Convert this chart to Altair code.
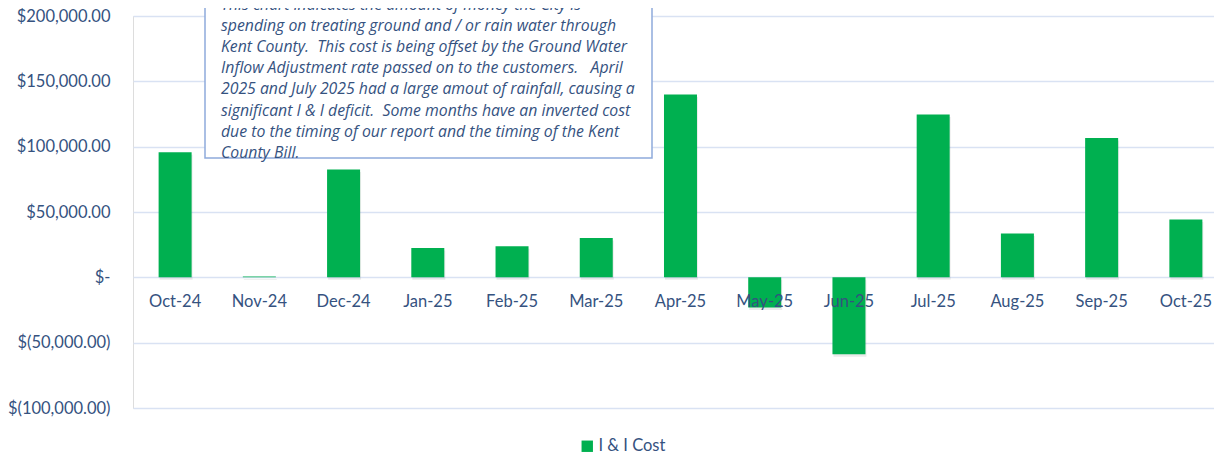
import altair as alt
import pandas as pd

# ---- data ----
months = ["Oct-24", "Nov-24", "Dec-24", "Jan-25", "Feb-25", "Mar-25", "Apr-25",
          "May-25", "Jun-25", "Jul-25", "Aug-25", "Sep-25", "Oct-25"]
costs = [95800, 600, 82500, 22400, 23700, 30100, 140000,
         -23100, -58800, 124700, 33600, 106600, 44300]
series_name = "I & I Cost"
y_ticks = [-100000, -50000, 0, 50000, 100000, 150000, 200000]
note_lines = [
    "This chart indicates the amount of money the City is",
    "spending on treating ground and / or rain water through",
    "Kent County.\u00a0 This cost is being offset by the Ground Water",
    "Inflow Adjustment rate passed on to the customers.\u00a0\u00a0 April",
    "2025 and July 2025 had a large amout of rainfall, causing a",
    "significant I & I deficit.\u00a0 Some months have an inverted cost",
    "due to the timing of our report and the timing of the Kent",
    "County Bill.",
]

df = pd.DataFrame({"month": months, "cost": costs, "series": [series_name] * len(months)})
one = pd.DataFrame({"k": [0]})

FONT = "Lato"
TXT = "#35527F"
GREEN = "#00B050"

# category slots: position = order of the month in the list (1..13);
# the visible plot is a little narrower than 13 full slots, as in the reference
x_enc = alt.X("idx:Q", axis=None,
              scale=alt.Scale(domain=[0.5, 13.334], nice=False, zero=False, padding=0))
y_scale = alt.Scale(domain=[-100000, 200000], nice=False, zero=False)

label_expr = ("datum.value == 0 ? '$-' : (datum.value < 0 ? '$(' + format(-datum.value, ',.2f') + ')'"
              " : '$' + format(datum.value, ',.2f'))")

y_enc = alt.Y("cost:Q", scale=y_scale,
              axis=alt.Axis(values=y_ticks, labelExpr=label_expr, title=None, domain=False,
                            ticks=False, gridColor="#D9E2F3", gridWidth=1.3,
                            labelFont=FONT, labelFontSize=16.5, labelColor=TXT, labelPadding=23))

base = alt.Chart(df).transform_window(idx="row_number()")

shadow = base.mark_bar(width=33, color="#000000", opacity=0.08, xOffset=1, yOffset=2.5).encode(
    x=x_enc, y=y_enc
)

bars = base.mark_bar(width=33).encode(
    x=x_enc,
    y=y_enc,
    color=alt.Color("series:N", scale=alt.Scale(domain=[series_name], range=[GREEN]),
                    legend=alt.Legend(title=None, orient="none", legendX=446, legendY=422,
                                      symbolType="square", symbolSize=130, symbolStrokeWidth=0,
                                      labelFont=FONT, labelFontSize=16.5, labelColor=TXT,
                                      labelOffset=3)),
)

xlabels = base.mark_text(dy=24.5, font=FONT, fontSize=16.5, color=TXT, baseline="middle").encode(
    x=x_enc, y=alt.datum(0), text="month:N"
)

box = alt.Chart(one).mark_rect(fill="white", stroke="#8EAADB", strokeWidth=1.5).encode(
    x=alt.value(72), x2=alt.value(519), y=alt.value(-40), y2=alt.value(142)
)

note = alt.Chart(one).mark_text(text=note_lines, font="Open Sans", fontSize=15.8, fontStyle="italic",
                                color=TXT, align="left", baseline="alphabetic",
                                lineHeight=21.1).encode(
    x=alt.value(88), y=alt.value(-6)
)

chart = alt.layer(shadow, bars, xlabels, box, note).properties(
    width=1081, height=392,
    autosize=alt.AutoSizeParams(type="none"),
    padding={"left": 125, "top": 8, "right": 0, "bottom": 48},
).configure_view(stroke=None).configure(background="white")

chart.save("out.html", embed_options={"renderer": "svg", "actions": False})
